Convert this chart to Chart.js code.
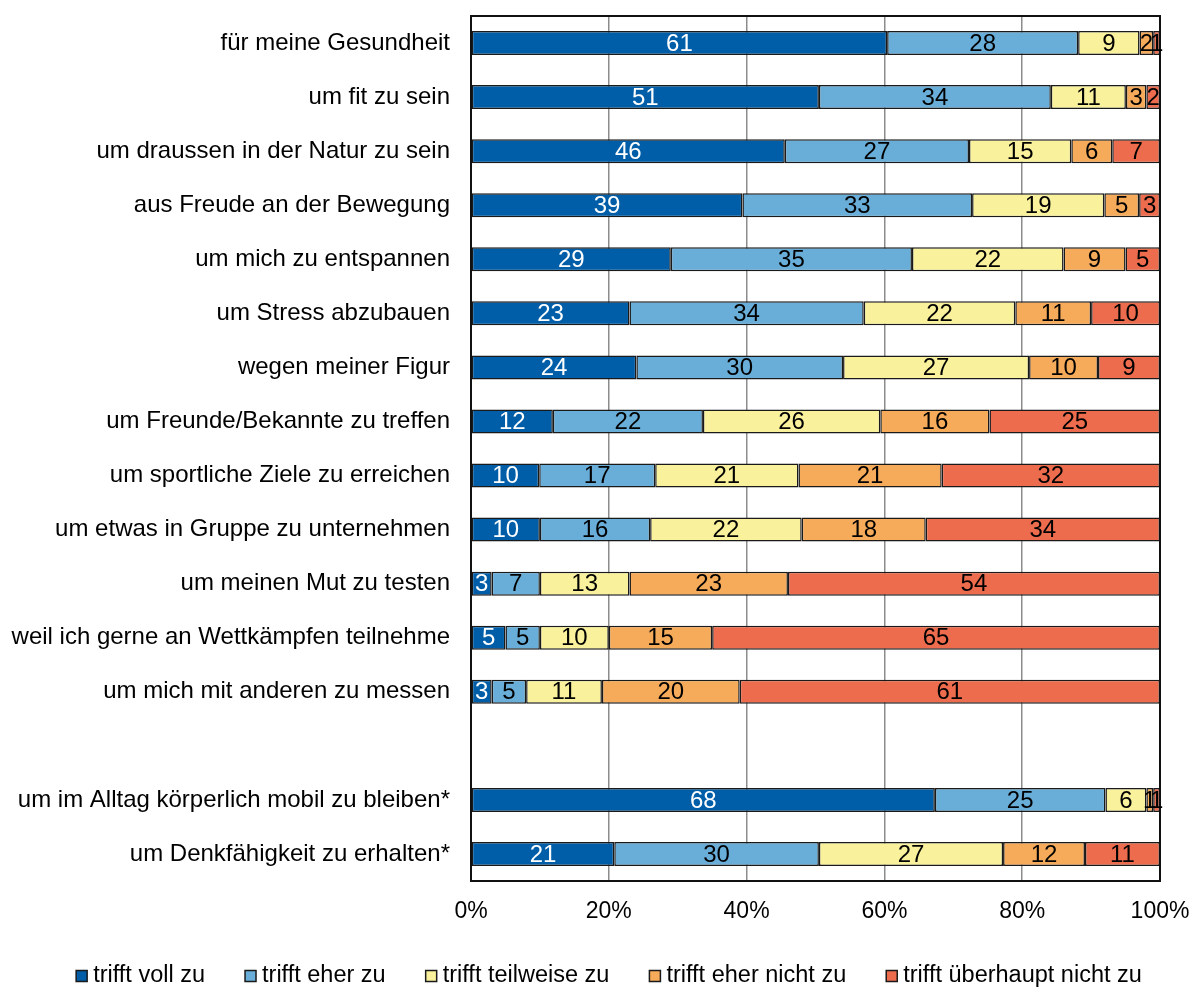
<!DOCTYPE html>
<html>
<head>
<meta charset="utf-8">
<script src="https://cdn.jsdelivr.net/npm/chart.js@4.4.1/dist/chart.umd.min.js"></script>
<style>
  html, body { margin: 0; padding: 0; background: #ffffff; }
  #wrap { width: 1192px; height: 990px; }
</style>
</head>
<body>
<div id="wrap"><canvas id="chart" width="1192" height="990"></canvas></div>
<script>
// Motive (rows); the empty label leaves a blank row before the two starred items
const categories = [
  'für meine Gesundheit',
  'um fit zu sein',
  'um draussen in der Natur zu sein',
  'aus Freude an der Bewegung',
  'um mich zu entspannen',
  'um Stress abzubauen',
  'wegen meiner Figur',
  'um Freunde/Bekannte zu treffen',
  'um sportliche Ziele zu erreichen',
  'um etwas in Gruppe zu unternehmen',
  'um meinen Mut zu testen',
  'weil ich gerne an Wettkämpfen teilnehme',
  'um mich mit anderen zu messen',
  '',
  'um im Alltag körperlich mobil zu bleiben*',
  'um Denkfähigkeit zu erhalten*'
];

const seriesNames = [
  'trifft voll zu',
  'trifft eher zu',
  'trifft teilweise zu',
  'trifft eher nicht zu',
  'trifft überhaupt nicht zu'
];

// Answer shares in percent, one array per answer category
const trifftVollZu          = [61, 51, 46, 39, 29, 23, 24, 12, 10, 10,  3,  5,  3, null, 68, 21];
const trifftEherZu          = [28, 34, 27, 33, 35, 34, 30, 22, 17, 16,  7,  5,  5, null, 25, 30];
const trifftTeilweiseZu     = [ 9, 11, 15, 19, 22, 22, 27, 26, 21, 22, 13, 10, 11, null,  6, 27];
const trifftEherNichtZu     = [ 2,  3,  6,  5,  9, 11, 10, 16, 21, 18, 23, 15, 20, null,  1, 12];
const trifftUeberhauptNicht = [ 1,  2,  7,  3,  5, 10,  9, 25, 32, 34, 54, 65, 61, null,  1, 11];

const xTickLabels = ['0%', '20%', '40%', '60%', '80%', '100%'];

const seriesColors = ['#005ea8', '#69aed9', '#f9f19c', '#f6ab5a', '#ed6c4d'];
const valueTextColors = ['#ffffff', '#000000', '#000000', '#000000', '#000000'];

const FONT = '"Liberation Sans", Arial, Helvetica, sans-serif';

const seriesValues = [trifftVollZu, trifftEherZu, trifftTeilweiseZu, trifftEherNichtZu, trifftUeberhauptNicht];

// each row is shown as a 100% stacked bar
const rowTotals = categories.map((_, i) =>
  seriesValues.reduce((s, arr) => s + (arr[i] == null ? 0 : arr[i]), 0));

const datasets = seriesValues.map((arr, k) => ({
  label: seriesNames[k],
  raw: arr,
  data: arr.map((v, i) => (v == null || rowTotals[i] === 0) ? null : v / rowTotals[i] * 100),
  backgroundColor: seriesColors[k],
  borderColor: '#1a1a1a',
  borderWidth: 1.5,
  borderSkipped: false,
  barPercentage: 0.445,
  categoryPercentage: 1.0
}));

// frame around the plot area plus the numbers inside each segment
const frameAndValues = {
  id: 'frameAndValues',
  afterDatasetsDraw(chart) {
    const ctx = chart.ctx;
    const a = chart.chartArea;
    ctx.save();
    ctx.strokeStyle = '#111111';
    ctx.lineWidth = 2;
    ctx.strokeRect(a.left, a.top, a.right - a.left, a.bottom - a.top);

    ctx.font = '24px ' + FONT;
    ctx.textAlign = 'center';
    ctx.textBaseline = 'middle';
    chart.data.datasets.forEach((ds, k) => {
      const meta = chart.getDatasetMeta(k);
      meta.data.forEach((bar, i) => {
        const v = ds.raw[i];
        if (v == null) return;
        const p = bar.getProps(['x', 'y', 'base'], true);
        ctx.fillStyle = valueTextColors[k];
        ctx.fillText(String(v), (p.x + p.base) / 2, p.y + 1);
      });
    });
    ctx.restore();
  }
};

// single-row legend below the axis
const bottomLegend = {
  id: 'bottomLegend',
  afterDraw(chart) {
    const ctx = chart.ctx;
    const box = 11, gapText = 6, gapItem = 40, centerX = 609, centerY = 976;
    ctx.save();
    ctx.font = '23.5px ' + FONT;
    ctx.textBaseline = 'middle';
    ctx.textAlign = 'left';
    const items = chart.data.datasets.map(ds => ({
      text: ds.label, color: ds.backgroundColor, w: ctx.measureText(ds.label).width
    }));
    const total = items.reduce((s, it) => s + box + gapText + it.w, 0) + gapItem * (items.length - 1);
    let x = centerX - total / 2;
    items.forEach(it => {
      ctx.fillStyle = it.color;
      ctx.fillRect(x, centerY - box / 2, box, box);
      ctx.strokeStyle = '#1a1a1a';
      ctx.lineWidth = 1.5;
      ctx.strokeRect(x, centerY - box / 2, box, box);
      ctx.fillStyle = '#000000';
      ctx.fillText(it.text, x + box + gapText, centerY);
      x += box + gapText + it.w + gapItem;
    });
    ctx.restore();
  }
};

new Chart(document.getElementById('chart'), {
  type: 'bar',
  data: { labels: categories, datasets },
  options: {
    indexAxis: 'y',
    responsive: false,
    animation: false,
    devicePixelRatio: 1,
    layout: { padding: { top: 16, right: 32, bottom: 64, left: 0 } },
    plugins: {
      legend: { display: false },
      tooltip: { enabled: false }
    },
    scales: {
      x: {
        stacked: true,
        min: 0,
        max: 100,
        ticks: {
          stepSize: 20,
          padding: 0,
          color: '#000000',
          font: { family: FONT, size: 23 },
          callback: (v) => xTickLabels[Math.round(v / 20)]
        },
        grid: {
          color: '#8c8c8c',
          lineWidth: 1.5,
          drawTicks: true,
          tickLength: 17,
          tickColor: 'rgba(0,0,0,0)'
        },
        border: { display: false },
        afterFit: (s) => { s.height = 45; }
      },
      y: {
        stacked: true,
        ticks: {
          padding: 0,
          color: '#000000',
          font: { family: FONT, size: 24 },
          autoSkip: false
        },
        grid: {
          display: true,
          color: 'rgba(0,0,0,0)',
          drawTicks: true,
          tickLength: 21,
          tickColor: 'rgba(0,0,0,0)'
        },
        border: { display: false },
        afterFit: (s) => { s.width = 471; }
      }
    }
  },
  plugins: [frameAndValues, bottomLegend]
});
</script>
</body>
</html>
